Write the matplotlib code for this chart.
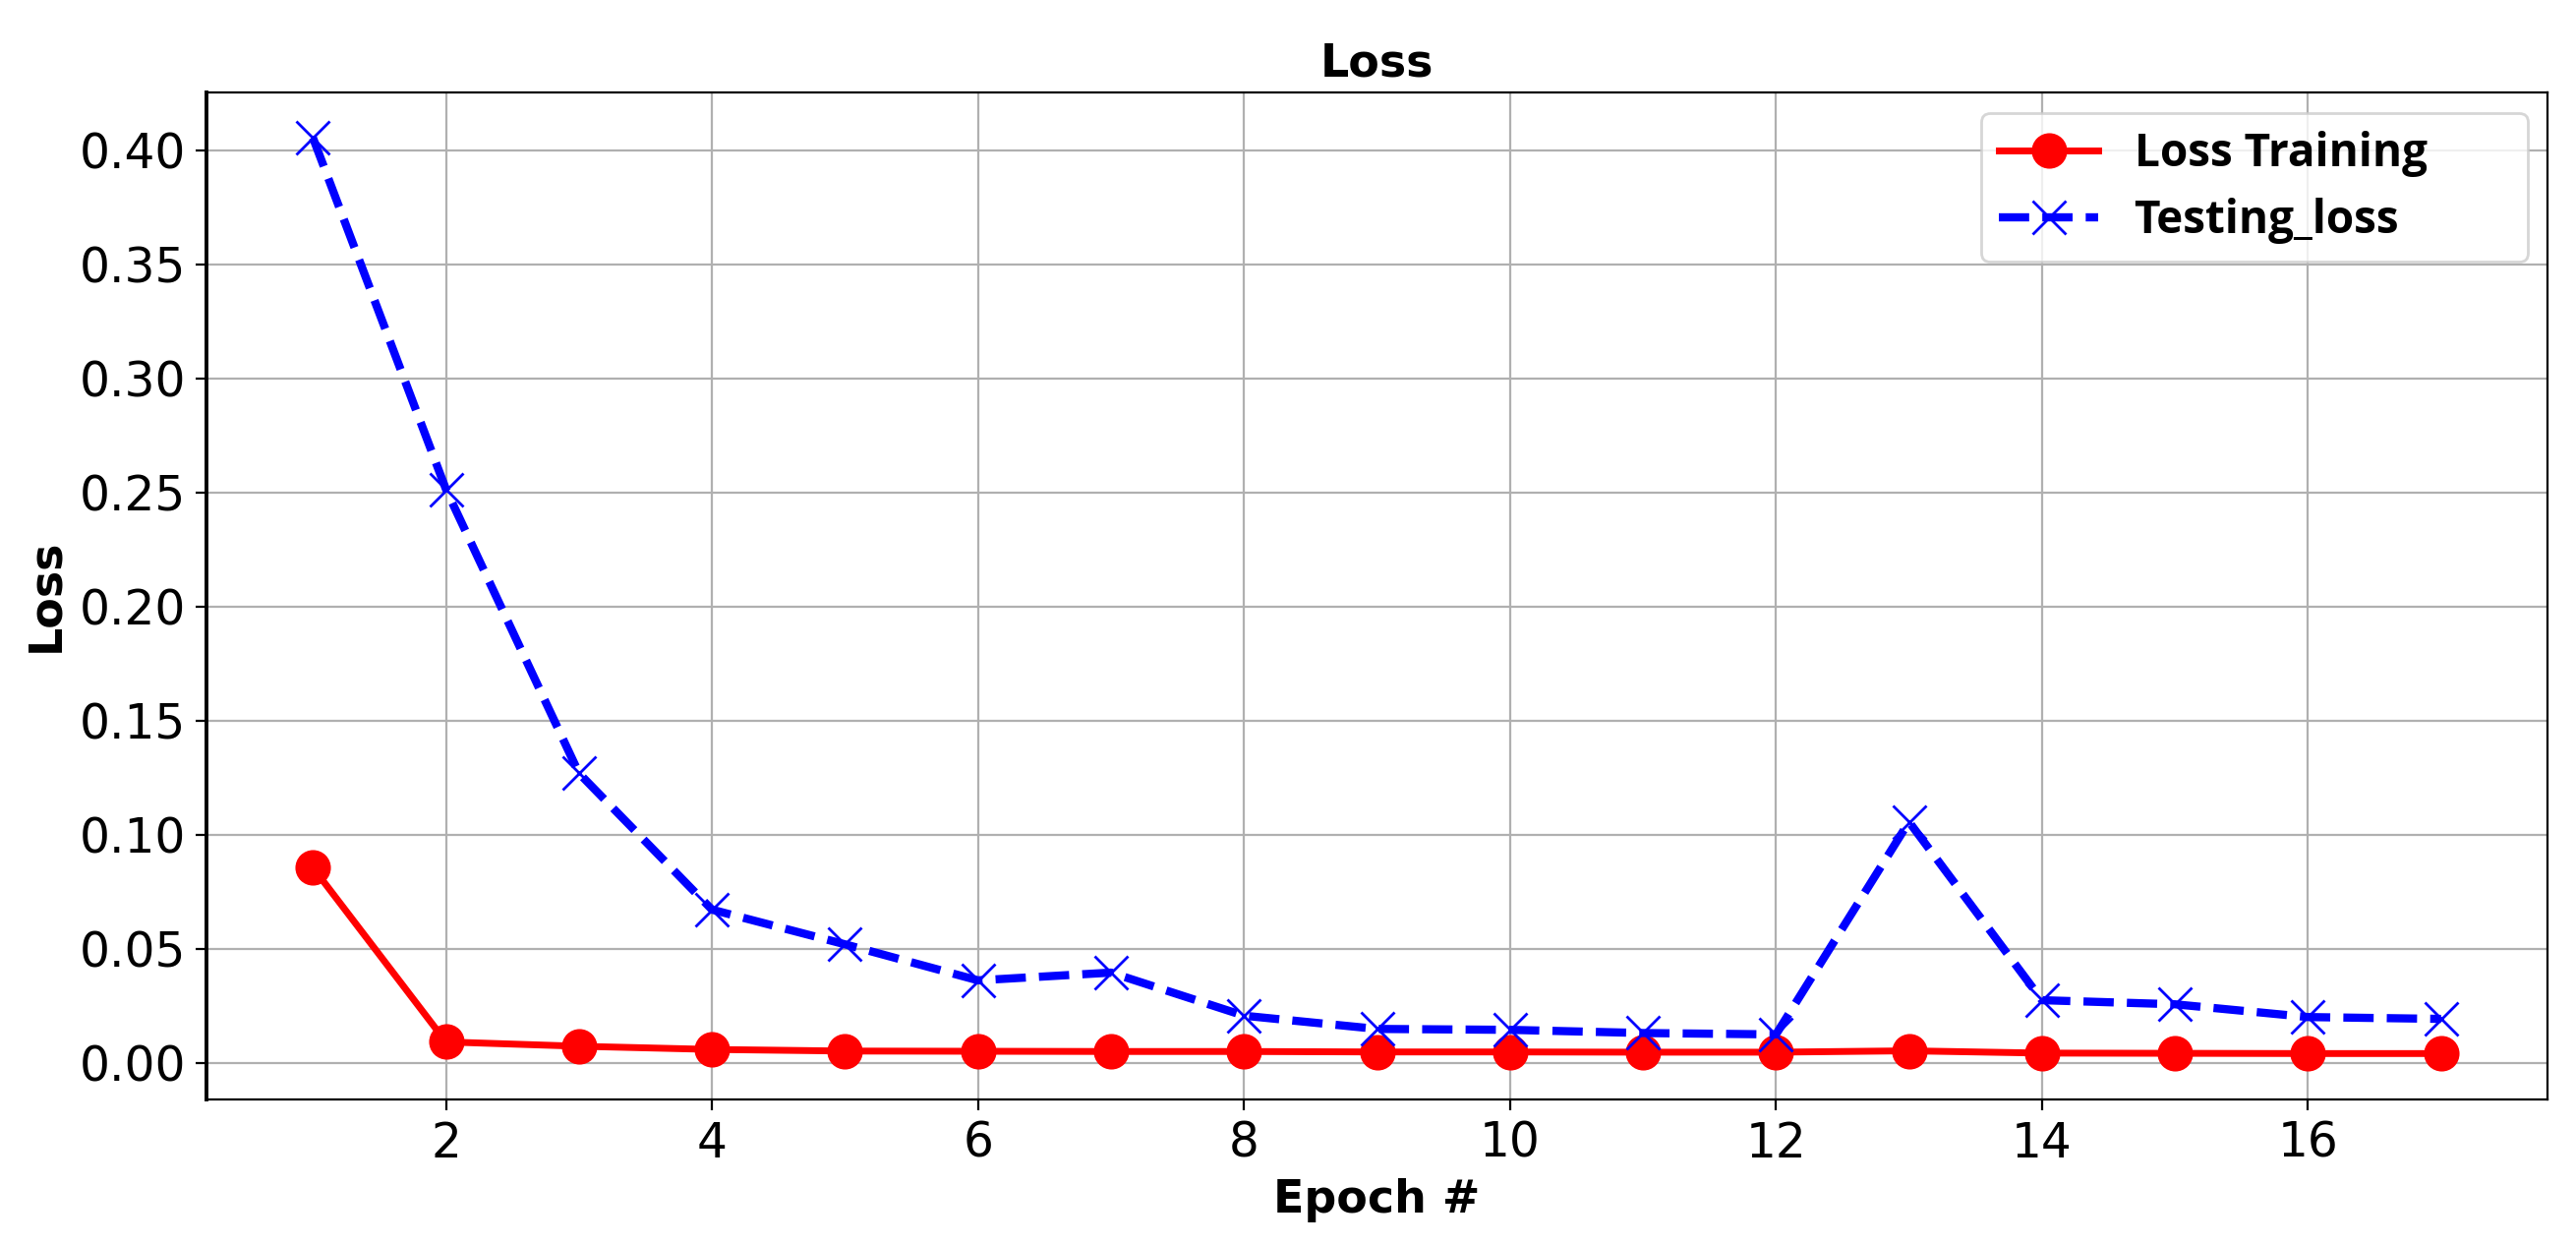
import matplotlib.pyplot as plt

epochs = list(range(1, 18))
train_loss = [0.0855, 0.0091, 0.0072, 0.0058, 0.0051, 0.0050, 0.0049, 0.0049, 0.0047,
              0.0047, 0.0046, 0.0046, 0.0052, 0.0042, 0.0041, 0.0040, 0.0040]
test_loss = [0.4055, 0.2514, 0.1269, 0.0671, 0.0519, 0.0361, 0.0395, 0.0206, 0.0148,
             0.0144, 0.0130, 0.0124, 0.1056, 0.0274, 0.0256, 0.0200, 0.0192]

fig = plt.figure(figsize=(13.1, 6.33), dpi=200)
ax = fig.add_subplot(111)
fig.subplots_adjust(left=0.0802, right=0.9889, bottom=0.117, top=0.926)

ax.plot(epochs, train_loss, color='red', linestyle='-', linewidth=2.5,
        marker='o', markersize=12, label='Loss Training')
ax.plot(epochs, test_loss, color='blue', linestyle='--', linewidth=3,
        marker='x', markersize=12, markeredgewidth=1.0, label='Testing_loss')

ax.set_title('Loss', fontsize=16.5, fontweight='bold')
ax.set_xlabel('Epoch #', fontsize=16.5, fontweight='bold')
ax.set_ylabel('Loss', fontsize=16.5, fontweight='bold')
ax.tick_params(axis='both', labelsize=17.5, length=4)
ax.grid(True)
ax.spines['left'].set_linewidth(1.4)

# legend box is wider than its contents in the original, so stretch it
ax.legend(loc='upper left', bbox_to_anchor=(0.758, 0.831, 0.2336, 0.1485),
          mode='expand', borderaxespad=0,
          prop=dict(family='Open Sans', weight='bold', size=16.5),
          handlelength=2.2, labelspacing=0.45)

fig.savefig('out.png', dpi=200)
